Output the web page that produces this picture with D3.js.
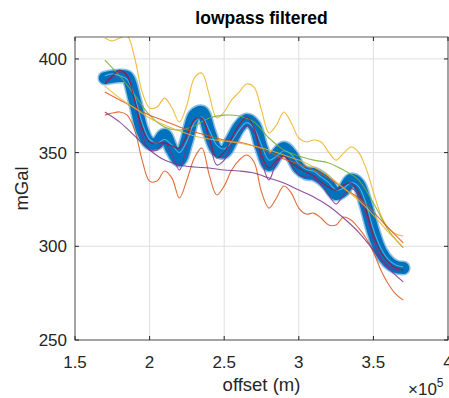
<!DOCTYPE html>
<html>
<head>
<meta charset="utf-8">
<script src="https://cdn.jsdelivr.net/npm/d3@7"></script>
<style>
  body { margin: 0; background: #fff; }
  svg { font-family: "Liberation Sans", Arial, sans-serif; }
</style>
</head>
<body>
<div id="chart"></div>
<script>
// offsets in units of 1e5 m
const offsetsFine = [1.70,1.75,1.80,1.85,1.90,1.95,2.00,2.05,2.10,2.15,2.20,2.25,2.30,2.35,2.40,2.45,2.50,2.55,2.60,2.65,2.70,2.75,2.80,2.85,2.90,2.95,3.00,3.05,3.10,3.15,3.20,3.25,3.30,3.35,3.40,3.45,3.50,3.55,3.60,3.65,3.70];
const offsetsCoarse = [1.7,1.8,1.9,2.0,2.1,2.2,2.3,2.4,2.5,2.6,2.7,2.8,2.9,3.0,3.1,3.2,3.3,3.4,3.5,3.6,3.7];

// gravity (mGal)
const gravityRaw = [389.8,390.5,390.9,390.3,378,362,355.1,355.1,359.4,351.4,346,356.7,370,371.7,361,351.4,350.3,356.7,363.7,367.4,364.7,352.5,343.4,348.7,352.5,348.7,341.8,339,338.6,336.4,332.7,327.9,330,335.4,333.2,322,307.6,297,291.6,289,288.4];
const orangeWiggly = [370,371.1,371.7,370,362,346,334.8,334.8,340.2,336.4,325.8,335.4,347.1,352.5,338,327.4,332.2,340.7,346,348.7,345,329,320.4,325.8,332.2,328.4,320.4,317.2,317.7,315.1,311.4,311.4,315.6,314,309.8,304.4,297,287.4,279.9,274.5,271.3];
const yellowWiggly = [411.2,409.6,411.2,412.2,400.5,382.3,373.8,374.3,379.1,373.8,366.3,375.4,389.8,392.5,380.7,368.5,371.7,378.1,382.3,386.6,385,372.7,360.5,364.7,371.7,365.8,357.8,355.7,356.7,355.7,350.3,346,349.7,353,350.3,341.8,329,316.7,309.8,306.6,305.5];
const purpleWiggly = [388.7,389.8,393,391.4,378,359.4,351.4,351.4,355.1,348.7,340.7,354,367.4,368.5,356.7,343.4,346,354,361,364.2,361,346,335.4,344.5,348.2,343.4,338,337,336.4,332.7,327.4,322.6,327.4,331.1,327.4,316.7,303.4,293.8,289.5,287.4,286.3];
const cyanWiggly = [391,392,391,389,380,366,357,355,357,354,350,356,366,369,362,354,352,356,362,366,363,354,346,348,351,349,344,341,340,337,334,330,331,334,332,323,309,299,293,290,289];
const redWiggly = [386.6,390.9,394.1,390.9,378,363.1,355.7,355.1,355.1,353.5,352.5,359.4,367.4,368.5,357.8,347.1,350.3,357.8,364.7,369,363.1,348.7,341.8,346,348.2,344.5,341.8,339.6,337.5,334.3,331.6,330,332.7,333.8,329,319.4,306,297,291.6,288.4,287.4];

const greenSmooth = [399.4,390.9,380.7,370,363.7,362,364.2,368.5,370,369.5,366.3,357.8,351.4,348.2,346,344.5,340.7,335.4,323.1,308.7,299.1];
const orangeSmooth = [382.3,378.1,373.8,370,366.9,363.7,361,358.9,356.7,355.7,353.5,350.3,346.6,343.9,340.7,336.4,331.1,325.8,318.3,309.8,301.8];
const yellowSmooth = [385.5,379.1,373.8,368.5,364.7,361.5,358.9,357.3,356.2,355.1,353.5,351.4,348.7,346,342.3,337.5,331.1,324.7,316.7,307.6,299.6];
const purpleSmooth = [371.7,366.3,358.9,351.4,346,343.4,342.3,341.8,340.7,340.2,339.1,336.4,333.8,330,326.3,321.5,315.1,307.6,298,288.4,281];

const xTicks = [1.5,2,2.5,3,3.5,4];
const yTicks = [250,300,350,400];

const W = 449, H = 398;
const plot = { left: 75, right: 448, top: 37, bottom: 340 };

const svg = d3.select("#chart").append("svg").attr("width", W).attr("height", H);

const x = d3.scaleLinear().domain([1.5, 4]).range([plot.left, plot.right]);
const y = d3.scaleLinear().domain([250, 411.7]).range([plot.bottom, plot.top]);

// grid
svg.append("g").selectAll("line").data(xTicks).enter().append("line")
  .attr("x1", d => x(d)).attr("x2", d => x(d))
  .attr("y1", plot.top).attr("y2", plot.bottom)
  .attr("stroke", "#dfdfdf").attr("stroke-width", 1);
svg.append("g").selectAll("line").data(yTicks).enter().append("line")
  .attr("x1", plot.left).attr("x2", plot.right)
  .attr("y1", d => y(d)).attr("y2", d => y(d))
  .attr("stroke", "#dfdfdf").attr("stroke-width", 1);

svg.append("clipPath").attr("id", "clip").append("rect")
  .attr("x", plot.left).attr("y", plot.top)
  .attr("width", plot.right - plot.left).attr("height", plot.bottom - plot.top);

const lines = svg.append("g").attr("clip-path", "url(#clip)");
const lineGen = xs => d3.line().x((d, i) => x(xs[i])).y(d => y(d)).curve(d3.curveCatmullRom.alpha(0.5));

// thick blue markers line
lines.append("path").datum(gravityRaw)
  .attr("d", lineGen(offsetsFine)).attr("fill", "none")
  .attr("stroke", "#0072BD").attr("stroke-opacity", 0.45)
  .attr("stroke-width", 15).attr("stroke-linecap", "round").attr("stroke-linejoin", "round");
lines.append("path").datum(gravityRaw)
  .attr("d", lineGen(offsetsFine)).attr("fill", "none")
  .attr("stroke", "#0072BD")
  .attr("stroke-width", 12).attr("stroke-linecap", "round").attr("stroke-linejoin", "round");

const thin = [
  [orangeWiggly, offsetsFine, "#D95319"],
  [yellowWiggly, offsetsFine, "#EDB120"],
  [purpleWiggly, offsetsFine, "#7E2F8E"],
  [greenSmooth, offsetsCoarse, "#77AC30"],
  [cyanWiggly, offsetsFine, "#4DBEEE"],
  [redWiggly, offsetsFine, "#A2142F"],
  [orangeSmooth, offsetsCoarse, "#D95319"],
  [yellowSmooth, offsetsCoarse, "#EDB120"],
  [purpleSmooth, offsetsCoarse, "#7E2F8E"]
];
thin.forEach(([vals, xs, c]) => {
  lines.append("path").datum(vals)
    .attr("d", lineGen(xs)).attr("fill", "none")
    .attr("stroke", c).attr("stroke-width", 1.1).attr("stroke-opacity", 0.85);
});

// box + ticks
const axisColor = "#262626";
svg.append("rect")
  .attr("x", plot.left).attr("y", plot.top)
  .attr("width", plot.right - plot.left).attr("height", plot.bottom - plot.top)
  .attr("fill", "none").attr("stroke", axisColor).attr("stroke-width", 1).attr("stroke-opacity", 0.75);

const tl = 4;
xTicks.forEach(t => {
  svg.append("line").attr("x1", x(t)).attr("x2", x(t)).attr("y1", plot.bottom).attr("y2", plot.bottom - tl).attr("stroke", axisColor);
  svg.append("line").attr("x1", x(t)).attr("x2", x(t)).attr("y1", plot.top).attr("y2", plot.top + tl).attr("stroke", axisColor);
});
yTicks.forEach(t => {
  svg.append("line").attr("x1", plot.left).attr("x2", plot.left + tl).attr("y1", y(t)).attr("y2", y(t)).attr("stroke", axisColor);
  svg.append("line").attr("x1", plot.right).attr("x2", plot.right - tl).attr("y1", y(t)).attr("y2", y(t)).attr("stroke", axisColor);
});

// tick labels
svg.append("g").selectAll("text").data(xTicks).enter().append("text")
  .attr("x", d => x(d)).attr("y", 368)
  .attr("text-anchor", "middle").style("font-size", "17px").attr("fill", axisColor)
  .text(d => d);
svg.append("g").selectAll("text").data(yTicks).enter().append("text")
  .attr("x", plot.left - 8).attr("y", d => y(d) + 6)
  .attr("text-anchor", "end").style("font-size", "17px").attr("fill", axisColor)
  .text(d => d);

// exponent
const ex = svg.append("text").attr("x", 408).attr("y", 395).style("font-size", "17px").attr("fill", axisColor);
ex.append("tspan").text("×10");
ex.append("tspan").attr("dy", -8).style("font-size", "12px").text("5");

// labels
svg.append("text").attr("x", (plot.left + plot.right) / 2).attr("y", 391)
  .attr("text-anchor", "middle").style("font-size", "18.5px").attr("fill", axisColor)
  .text("offset (m)");
svg.append("text").attr("transform", `translate(28,${(plot.top + plot.bottom) / 2}) rotate(-90)`)
  .attr("text-anchor", "middle").style("font-size", "18.5px").attr("fill", axisColor)
  .text("mGal");
svg.append("text").attr("x", (plot.left + plot.right) / 2).attr("y", 24)
  .attr("text-anchor", "middle").style("font-size", "17.5px").style("font-weight", "700").attr("fill", "#000")
  .text("lowpass filtered");
</script>
</body>
</html>
